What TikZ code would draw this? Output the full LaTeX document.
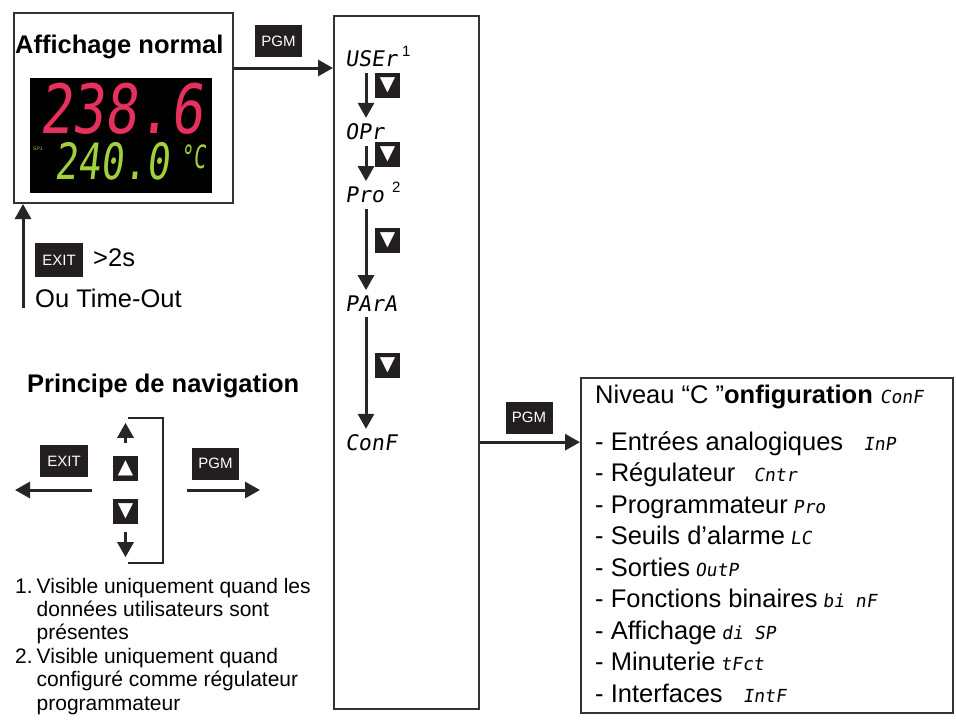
\documentclass[tikz,border=0pt]{standalone}
\usepackage{fontspec}
\setmainfont{Liberation Sans}
\newfontfamily\lcdfont[FakeSlant=0.15]{DejaVu Sans Mono}
\newfontfamily\symfont{DejaVu Sans}
\usepackage{xcolor}
\usepackage{graphicx}
\usepackage{tikz}
\usetikzlibrary{positioning, arrows.meta, calc}
\definecolor{segred}{HTML}{E8305C}
\definecolor{seggreen}{HTML}{A2D03A}
\definecolor{keyblack}{HTML}{231F20}

\begin{document}
\begin{tikzpicture}[x=1pt, y=-1pt,
    frame/.style={draw=black!80, line width=2pt, inner sep=0pt, anchor=north west},
    key/.style={fill=keyblack, text=white, inner sep=0pt, minimum width=47pt,
      minimum height=32pt, font=\fontsize{15}{15}\selectfont},
    arrowkey/.style={fill=keyblack, text=white, inner sep=0pt, minimum size=25pt,
      font=\symfont\fontsize{20}{20}\selectfont},
    flow/.style={draw=black!85, line width=3pt, -{Triangle[length=15pt, width=16pt]}},
    txt/.style={inner sep=0pt, anchor=base west, font=\fontsize{25.5}{30}\selectfont},
    lcd/.style={inner sep=0pt, anchor=base west, font=\lcdfont\fontsize{21.5}{21.5}\selectfont},
    supnum/.style={inner sep=0pt, anchor=base west, font=\fontsize{15}{15}\selectfont}]

  \useasboundingbox (0,0) rectangle (956,720);

  % affichage normal
  \node[frame, minimum width=219pt, minimum height=190pt] (normal) at (13,12) {};
  \node[txt, font=\bfseries\fontsize{25.5}{30}\selectfont] (normaltitle) at (15,53) {Affichage normal};
  \node[fill=black, inner sep=0pt, anchor=north west, minimum width=182pt,
        minimum height=115pt] (screen) at (30,78) {};
  \node[inner sep=0pt, anchor=base, text=segred, font=\lcdfont\fontsize{68}{68}\selectfont]
    (pv) at (121,133) {\scalebox{0.8}[1]{238.6}};
  \node[inner sep=0pt, anchor=base, text=seggreen, font=\lcdfont\fontsize{50}{50}\selectfont]
    (sp) at (112,179) {\scalebox{0.76}[1]{240.0}};
  \node[inner sep=0pt, anchor=base, text=seggreen, font=\lcdfont\fontsize{32}{32}\selectfont]
    (unit) at (193,168) {\scalebox{0.65}[1]{°C}};
  \node[inner sep=0pt, anchor=base west, text=seggreen, font=\fontsize{5}{5}\selectfont]
    (splabel) at (33,150) {SP1};

  % retour
  \node[key, minimum width=48pt, minimum height=34pt] (exit1) at (59,260) {EXIT};
  \node[txt] (hold) at (93,266) {>2s};
  \node[txt] (timeout) at (35,307) {Ou Time-Out};
  \coordinate (back) at (23,308);
  \draw[flow] (back) -- (back |- normal.south);

  % menu
  \node[key] (pgm1) at (278.5,41) {PGM};
  \node[frame, minimum width=145pt, minimum height=693pt] (menu) at (333,15) {};
  \coordinate (pgmrow) at (0,68);
  \draw[flow] (normal.east |- pgmrow) -- (menu.west |- pgmrow);

  \node[lcd] (user) at (345,66) {USEr};
  \node[supnum] (sup1) at (402,56) {1};
  \node[lcd] (opr) at (345,139) {OPr};
  \node[lcd] (pro) at (345,202) {Pro};
  \node[supnum] (sup2) at (392,192) {2};
  \node[lcd] (para) at (345,311) {PArA};
  \node[lcd] (conf) at (345,450) {ConF};

  \coordinate (col) at (366,0);
  \foreach \a/\b in {user/opr, opr/pro, pro/para, para/conf}
    \draw[flow, shorten <=6pt, shorten >=5pt] (\a.south -| col) -- (\b.north -| col);
  \foreach \y [count=\k] in {85.5, 154.5, 240.5, 365.5}
    \node[arrowkey] (down\k) at (387.5,\y) {▼};

  % configuration
  \node[key] (pgm2) at (529,417.5) {PGM};
  \node[frame, minimum width=372pt, minimum height=335pt] (config) at (580,377) {};
  \draw[flow] (menu.east |- conf) -- (config.west |- conf);
  \node[txt] (conftitle) at (595,403)
    {Niveau “C ”\textbf{onfiguration} {\lcdfont\fontsize{18}{18}\selectfont ConF}};
  \foreach \entry/\gap/\code [count=\i from 0] in {Entrées analogiques/20pt/InP,
      Régulateur/18pt/Cntr, Programmateur/5pt/Pro, Seuils d’alarme/5pt/LC,
      Sorties/5pt/OutP, Fonctions binaires/5pt/bi nF, Affichage/5pt/di SP,
      Minuterie/5pt/tFct, Interfaces/20pt/IntF}
    \node[txt] (item\i) at (595,450+31.5*\i)
      {- \entry\hspace{\gap}{\lcdfont\fontsize{18}{18}\selectfont\code}};

  % principe de navigation
  \node[txt, font=\bfseries\fontsize{25.5}{30}\selectfont] (navtitle) at (27,392) {Principe de navigation};
  \node[key, minimum width=48pt] (exit2) at (64,461) {EXIT};
  \node[arrowkey] (upkey) at (125.5,468.5) {▲};
  \node[arrowkey] (downkey) at (125.5,511.5) {▼};
  \node[key] (pgm3) at (215.5,463.5) {PGM};
  \coordinate (exitend) at (15,490);
  \coordinate (pgmend) at (260,490);
  \draw[flow] ($(exit2.east |- exitend)+(4,0)$) -- (exitend);
  \draw[flow] ($(pgm3.west |- pgmend)+(-5,0)$) -- (pgmend);
  \draw[flow] ($(upkey.north)+(0,-13)$) -- ++(0,-20);
  \draw[flow] ($(downkey.south)+(0,8)$) -- ++(0,25);
  \draw[draw=black!85, line width=2.5pt] (128,418) -| (163,563) -- (128,563);

  % notes
  \node[inner sep=0pt, anchor=base west, font=\fontsize{21}{23.4}\selectfont] (notes) at (15,593)
    {\begin{tabular}[t]{@{}l@{\hspace{4pt}}l@{}}
      1. & Visible uniquement quand les\\
         & données utilisateurs sont\\
         & présentes\\
      2. & Visible uniquement quand\\
         & configuré comme régulateur\\
         & programmateur
    \end{tabular}};
\end{tikzpicture}
\end{document}
